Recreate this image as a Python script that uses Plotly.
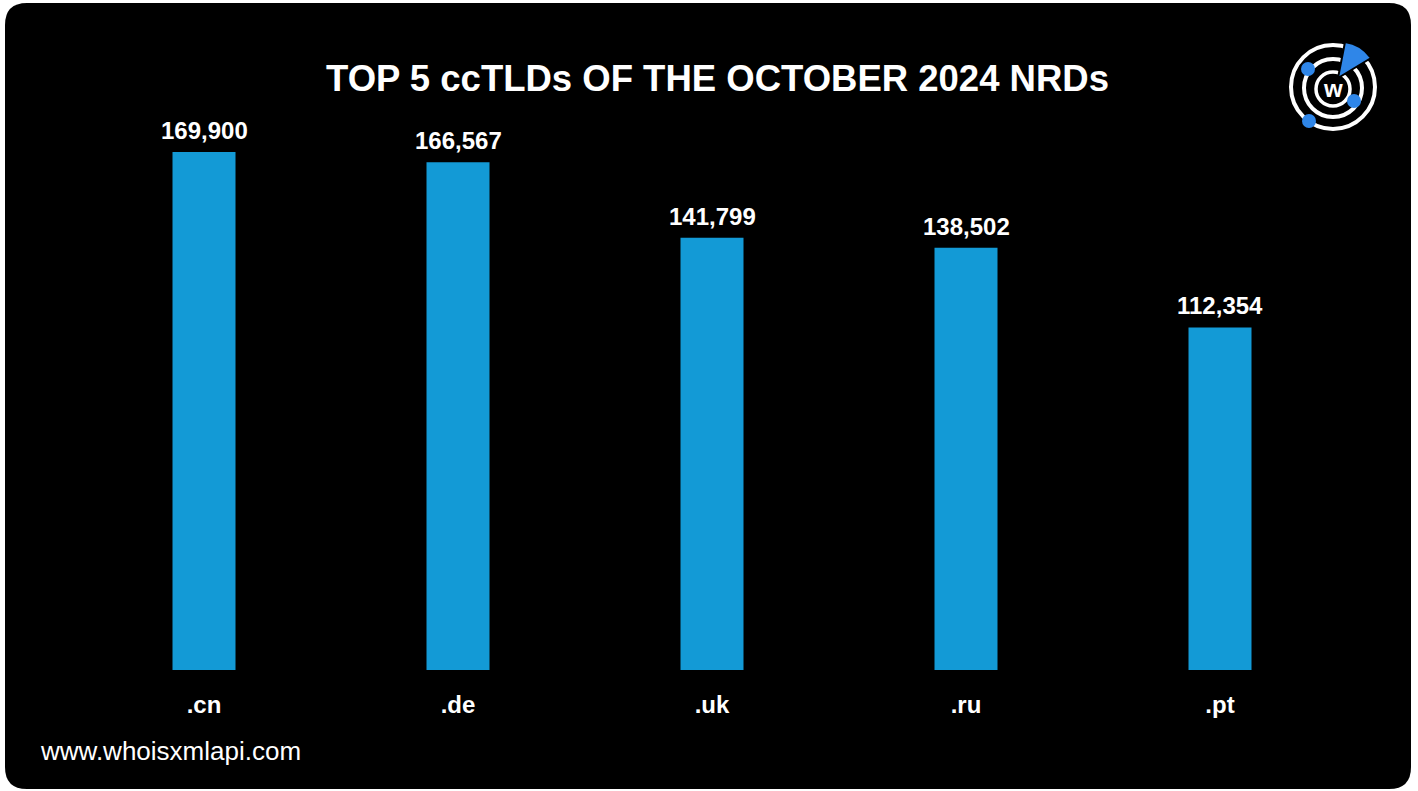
import plotly.graph_objects as go

categories = [".cn", ".de", ".uk", ".ru", ".pt"]
values = [169900, 166567, 141799, 138502, 112354]
value_labels = ["169,900", "166,567", "141,799", "138,502", "112,354"]
title_text = "TOP 5 ccTLDs OF THE OCTOBER 2024 NRDs"
footer_text = "www.whoisxmlapi.com"

W, H = 1418, 791
L, R, T, B = 77, 1347, 100, 670
FONT = "Liberation Sans, Arial, Helvetica, sans-serif"
BAR = "#139AD6"
LOGO_BLUE = "#2F86E8"

def px(x):
    return (x - L) / (R - L)

def py(y):
    return (B - y) / (B - T)

# y range so that 169,900 reaches pixel 152
ymax = values[0] * (B - T) / (B - 152)

fig = go.Figure()
fig.add_trace(go.Bar(
    x=categories, y=values, marker=dict(color=BAR, line=dict(width=0)),
    hoverinfo="skip",
))

annotations = []
for c, v, t in zip(categories, values, value_labels):
    annotations.append(dict(x=c, y=v, xref="x", yref="y", text=f"<b>{t}</b>",
                            showarrow=False, yanchor="bottom", yshift=6,
                            font=dict(family=FONT, size=24, color="white")))
annotations.append(dict(x=px(717), y=py(78), xref="paper", yref="paper",
                        text=f"<b>{title_text}</b>", showarrow=False,
                        xanchor="center", yanchor="middle",
                        font=dict(family=FONT, size=36.5, color="white")))
annotations.append(dict(x=px(38), y=py(751), xref="paper", yref="paper",
                        text=footer_text, showarrow=False,
                        xanchor="left", yanchor="middle",
                        font=dict(family=FONT, size=26, color="white")))
annotations.append(dict(x=px(1333), y=py(89), xref="paper", yref="paper",
                        text="<b>w</b>", showarrow=False,
                        xanchor="center", yanchor="middle",
                        font=dict(family=FONT, size=24, color="white")))

shapes = []
def P(x, y):
    return f"{px(x)},{py(y)}"
r = 22
path = (f"M {P(5+r,3)} L {P(1411-r,3)} Q {P(1411,3)} {P(1411,3+r)} "
        f"L {P(1411,789-r)} Q {P(1411,789)} {P(1411-r,789)} "
        f"L {P(5+r,789)} Q {P(5,789)} {P(5,789-r)} "
        f"L {P(5,3+r)} Q {P(5,3)} {P(5+r,3)} Z")
shapes.append(dict(type="path", path=path, xref="paper", yref="paper",
                   fillcolor="black", line=dict(width=0), layer="below"))

def circle(cx, cy, rad, fill=None, line_color=None, lw=0):
    return dict(type="circle", xref="paper", yref="paper",
                x0=px(cx - rad), x1=px(cx + rad), y0=py(cy + rad), y1=py(cy - rad),
                fillcolor=fill if fill else "rgba(0,0,0,0)",
                line=dict(color=line_color if line_color else "rgba(0,0,0,0)", width=lw),
                layer="above")

# logo
shapes.append(circle(1333, 87, 42, line_color="white", lw=4))
shapes.append(circle(1333, 88, 29, line_color="white", lw=4))
shapes.append(circle(1333, 89, 17, line_color="white", lw=3.5))
shapes.append(dict(type="path", xref="paper", yref="paper", layer="above",
                   path=f"M {P(1338,78)} L {P(1345,42)} Q {P(1361,44)} {P(1371,58)} Z",
                   fillcolor=LOGO_BLUE, line=dict(color="black", width=2)))
for cx, cy in [(1308, 69), (1309, 121), (1354, 101)]:
    shapes.append(circle(cx, cy, 7, fill=LOGO_BLUE))

fig.update_layout(
    width=W, height=H,
    margin=dict(l=L, r=W - R, t=T, b=H - B, pad=0),
    paper_bgcolor="white", plot_bgcolor="rgba(0,0,0,0)",
    bargap=0.752, showlegend=False,
    xaxis=dict(tickmode="array", tickvals=categories,
               ticktext=[f"<b>{c}</b>" for c in categories],
               tickfont=dict(family=FONT, size=24, color="white"),
               showgrid=False, zeroline=False, showline=False,
               ticks="", ticklabelstandoff=18, fixedrange=True),
    yaxis=dict(range=[0, ymax], visible=False, showgrid=False, zeroline=False,
               fixedrange=True),
    annotations=annotations, shapes=shapes,
)

fig.write_html("out.html", config={"displayModeBar": False},
               post_script="document.body.style.margin='0';")
